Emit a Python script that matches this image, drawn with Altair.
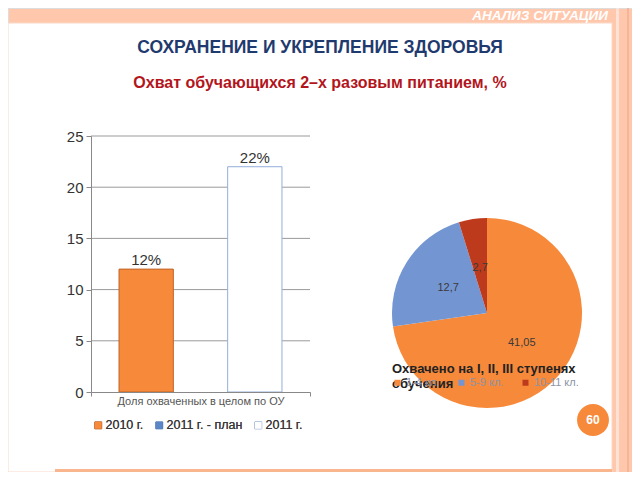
import altair as alt
import pandas as pd

# ---------------- data ----------------
category = ["Доля охваченных в целом по ОУ"]
series = ["2010 г.", "2011 г. - план", "2011 г."]
bar_values = [12, None, 22]
bar_labels = ["12%", None, "22%"]
y_ticks = [0, 5, 10, 15, 20, 25]

pie_groups = ["1-4 кл.", "5-9 кл.", "10-11 кл."]
pie_values = [41.05, 12.7, 2.7]
pie_labels = ["41,05", "12,7", "2,7"]

header_text = "АНАЛИЗ СИТУАЦИИ"
title_text = "СОХРАНЕНИЕ И УКРЕПЛЕНИЕ ЗДОРОВЬЯ"
subtitle_text = "Охват обучающихся  2–х разовым питанием, %"
pie_title_lines = ["Охвачено на I, II, III ступенях", "обучения"]
page_number = "60"

# ---------------- styles ----------------
FONT = "Liberation Sans"
PEACH = "#FFC7AC"
ORANGE = "#F7893B"
ORANGE_EDGE = "#BE6328"
BLUE = "#5B87C6"
LIGHT_BLUE = "#93AEDA"
PIE_BLUE = "#7396D3"
DARK_RED = "#BE3A1C"
NAVY = "#1F3A6E"
RED = "#B3151C"

W, H = 624, 464
X0, X1 = 83, 302      # bar plot area (canvas px)
Y0, Y1 = 384, 128
PIE_CX, PIE_CY, PIE_R = 479, 305, 95

bar_df = pd.DataFrame(
    [{"cat": category[0], "series": s, "value": v, "label": l}
     for s, v, l in zip(series, bar_values, bar_labels) if v is not None]
)
grid_df = pd.DataFrame({"value": y_ticks[1:]})
pie_df = pd.DataFrame({"grp": pie_groups, "pv": pie_values, "plabel": pie_labels,
                       "ord": list(range(len(pie_groups)))})
one = pd.DataFrame({"k": [0]})


def box(x, x2, y, y2, **kw):
    return alt.Chart(one).mark_rect(**kw).encode(
        x=alt.value(x), x2=alt.value(x2), y=alt.value(y), y2=alt.value(y2))


def label(text, x, y, **kw):
    return alt.Chart(one).mark_text(text=text, font=FONT, **kw).encode(
        x=alt.value(x), y=alt.value(y))


# ---------------- slide decoration ----------------
panel = box(0, 604, 15, 464, fill="white", stroke="#FAD8C8", strokeWidth=1)
stripe1 = box(608, 611, 0, 464, fill="#FFE2D6")
stripe2 = box(619, 621, 0, 464, fill="#F7B497")
bottom_line = box(47, 604, 461, 464, fill="#F9B58E")
header = label(header_text, 600, 8, align="right", baseline="middle",
               fontSize=13.5, fontWeight="bold", fontStyle="italic", color="white")
title = label(title_text, 312, 40, align="center", baseline="middle",
              fontSize=17.5, fontWeight="bold", color=NAVY)
subtitle = label(subtitle_text, 312, 75, align="center", baseline="middle",
                 fontSize=16, fontWeight="bold", color=RED)
page_circle = alt.Chart(one).mark_circle(size=1018, color=ORANGE, opacity=1).encode(
    x=alt.value(585), y=alt.value(412))
page_text = label(page_number, 585, 412, align="center", baseline="middle",
                  fontSize=12, fontWeight="bold", color="white")

# ---------------- bar chart ----------------
xenc = alt.X("cat:N",
             scale=alt.Scale(range=[X0, X1], paddingInner=0, paddingOuter=0),
             axis=alt.Axis(title=None, offset=-(H - Y0), tickBand="extent", labelAngle=0,
                           labelFontSize=11, labelColor="#555", labelPadding=-1,
                           labelFont=FONT, tickSize=4, tickColor="#888",
                           domainColor="#888", zindex=2))
xoff = alt.XOffset("series:N",
                   scale=alt.Scale(domain=series, paddingInner=0, paddingOuter=0.516))
yenc = alt.Y("value:Q",
             scale=alt.Scale(domain=[0, 25], range=[Y0, Y1], nice=False),
             axis=alt.Axis(values=y_ticks, offset=-X0, grid=False, title=None,
                           labelFontSize=15, labelColor="#333", labelFont=FONT,
                           tickSize=5, tickColor="#888", domainColor="#888",
                           labelPadding=3, zindex=2))

leg = dict(orient="none", legendX=84, legendY=411, direction="horizontal", title=None,
           symbolType="square", symbolSize=49, labelFontSize=12.5, labelColor="#3A3A3A",
           labelFontWeight="normal", labelFont=FONT, columnPadding=9, labelOffset=1,
           padding=0, symbolStrokeWidth=1)

grid = alt.Chart(grid_df).mark_rule(color="#9A9A9A", strokeWidth=1).encode(
    y=alt.Y("value:Q"), x=alt.value(X0), x2=alt.value(X1))

bars = alt.Chart(bar_df).mark_bar(strokeWidth=1).encode(
    x=xenc, xOffset=xoff, y=yenc,
    color=alt.Color("series:N", scale=alt.Scale(domain=series, range=[ORANGE, BLUE, "white"]),
                    legend=alt.Legend(**leg)),
    stroke=alt.Stroke("series:N", scale=alt.Scale(domain=series,
                                                  range=[ORANGE_EDGE, BLUE, LIGHT_BLUE]),
                      legend=alt.Legend(**leg)),
)
bar_text = alt.Chart(bar_df).mark_text(dy=-9, fontSize=15, color="#333", font=FONT).encode(
    x=alt.X("cat:N"), xOffset=alt.XOffset("series:N"), y=alt.Y("value:Q"),
    text="label:N")

# ---------------- pie chart ----------------
pie = alt.Chart(pie_df).mark_arc(outerRadius=PIE_R).encode(
    theta=alt.Theta("pv:Q", stack=True),
    order=alt.Order("ord:Q"),
    color=alt.Color("grp:N",
                    scale=alt.Scale(domain=pie_groups, range=[ORANGE, PIE_BLUE, DARK_RED]),
                    legend=alt.Legend(orient="none", legendX=384, legendY=369,
                                      direction="horizontal", title=None,
                                      symbolType="square", symbolSize=36,
                                      labelFontSize=11, labelColor="#8C94A6",
                                      labelFontWeight="normal",
                                      labelFont=FONT, columnPadding=16, labelOffset=3,
                                      padding=0)),
    x=alt.value(PIE_CX), y=alt.value(PIE_CY),
)
pie_text = alt.Chart(pie_df).mark_text(radius=46, fontSize=11, color="#3A3A3A",
                                       font=FONT).encode(
    theta=alt.Theta("pv:Q", stack=True),
    order=alt.Order("ord:Q"),
    text="plabel:N",
    x=alt.value(PIE_CX), y=alt.value(PIE_CY),
)
pie_title1 = label(pie_title_lines[0], 384, 361, align="left", baseline="middle",
                   fontSize=13, fontWeight="bold", color="#222")
pie_title2 = label(pie_title_lines[1], 384, 376, align="left", baseline="middle",
                   fontSize=13, fontWeight="bold", color="#222")

chart = alt.layer(
    panel, stripe1, stripe2, bottom_line, header, title, subtitle,
    grid, bars, bar_text, pie, pie_text, pie_title1, pie_title2,
    page_circle, page_text,
).resolve_scale(color="independent").properties(
    width=W, height=H, padding=0, background=PEACH,
    autosize=alt.AutoSizeParams(type="none"),
).configure_view(strokeWidth=0).configure(font=FONT)

chart.save("out.html", embed_options={"renderer": "svg", "actions": False})
